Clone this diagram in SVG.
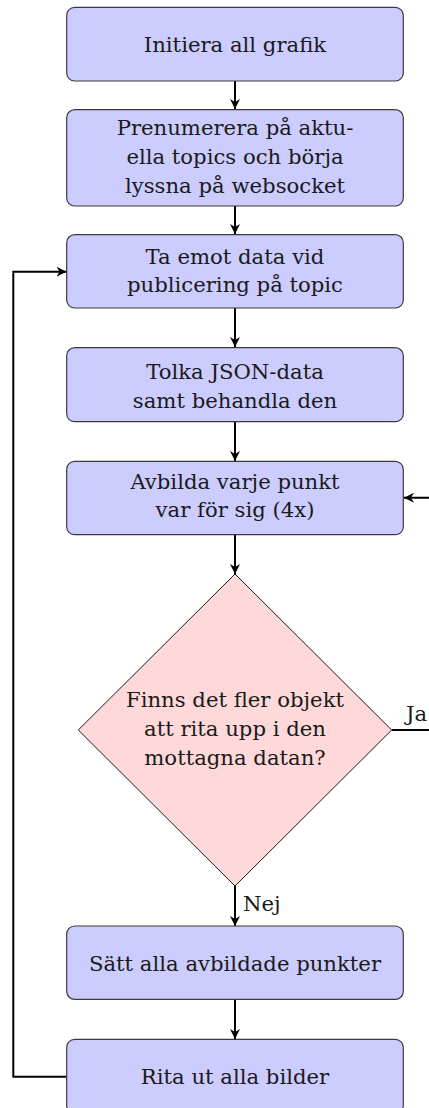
<svg xmlns="http://www.w3.org/2000/svg" width="429" height="1108" viewBox="0 0 429 1108">
  <defs>
    <style>
      .box { fill: #ccccff; stroke: #3a3a3a; stroke-width: 1.2; }
      .dec { fill: #ffd9d9; stroke: #1a1a1a; stroke-width: 1; }
      text { font-family: 'DejaVu Serif', serif; font-size: 21.2px; fill: #1a1a1a; }
      .lbl { text-anchor: middle; }
      .edge { fill: none; stroke: #000; stroke-width: 2; }
    </style>
    <marker id="arrow" viewBox="0 0 10 10" refX="10" refY="5" markerWidth="5" markerHeight="5" orient="auto" markerUnits="strokeWidth">
      <path d="M0,0 L10,5 L0,10 L3,5 Z" fill="#000"/>
    </marker>
  </defs>

  <!-- connectors -->
  <g id="edges">
    <line class="edge" x1="235" y1="81" x2="235" y2="109" marker-end="url(#arrow)"/>
    <line class="edge" x1="235" y1="206" x2="235" y2="234" marker-end="url(#arrow)"/>
    <line class="edge" x1="235" y1="308" x2="235" y2="347" marker-end="url(#arrow)"/>
    <line class="edge" x1="235" y1="422" x2="235" y2="461" marker-end="url(#arrow)"/>
    <line class="edge" x1="235" y1="535" x2="235" y2="574" marker-end="url(#arrow)"/>
    <line class="edge" x1="235" y1="886" x2="235" y2="926" marker-end="url(#arrow)"/>
    <line class="edge" x1="235" y1="999" x2="235" y2="1039" marker-end="url(#arrow)"/>
    <!-- yes branch: back to the per-point step -->
    <path class="edge" d="M391.7,730 H440 V497.7 H404" marker-end="url(#arrow)"/>
    <!-- main loop: back to receiving data -->
    <path class="edge" d="M67,1076.7 H13.3 V271.7 H66.5" marker-end="url(#arrow)"/>
    <text x="406" y="721">Ja</text>
    <text x="243" y="911">Nej</text>
  </g>

  <g id="init">
    <rect class="box" x="66.7" y="7.3" width="336.6" height="73.7" rx="8"/>
    <text class="lbl" x="235" y="52">Initiera all grafik</text>
  </g>

  <g id="subscribe">
    <rect class="box" x="66.7" y="109.7" width="336.6" height="96.3" rx="8"/>
    <text class="lbl" x="235" y="135">Prenumerera på aktu-</text>
    <text class="lbl" x="235" y="164">ella topics och börja</text>
    <text class="lbl" x="235" y="193">lyssna på websocket</text>
  </g>

  <g id="receive">
    <rect class="box" x="66.7" y="234.7" width="336.6" height="73.3" rx="8"/>
    <text class="lbl" x="235" y="263.5">Ta emot data vid</text>
    <text class="lbl" x="235" y="292">publicering på topic</text>
  </g>

  <g id="parse">
    <rect class="box" x="66.7" y="347.7" width="336.6" height="74" rx="8"/>
    <text class="lbl" x="235" y="378.5">Tolka JSON-data</text>
    <text class="lbl" x="235" y="407.5">samt behandla den</text>
  </g>

  <g id="map">
    <rect class="box" x="66.7" y="461.3" width="336.6" height="73.4" rx="8"/>
    <text class="lbl" x="235" y="488.5">Avbilda varje punkt</text>
    <text class="lbl" x="235" y="517">var för sig (4x)</text>
  </g>

  <g id="decision">
    <polygon class="dec" points="235,574 391.7,730 235,886 78.3,730"/>
    <text class="lbl" x="235" y="707">Finns det fler objekt</text>
    <text class="lbl" x="235" y="736">att rita upp i den</text>
    <text class="lbl" x="235" y="764.5">mottagna datan?</text>
  </g>

  <g id="set">
    <rect class="box" x="66.7" y="926" width="336.6" height="73.3" rx="8"/>
    <text class="lbl" x="235" y="970.5">Sätt alla avbildade punkter</text>
  </g>

  <g id="draw">
    <rect class="box" x="66.7" y="1039.3" width="336.6" height="74" rx="8"/>
    <text class="lbl" x="235" y="1084">Rita ut alla bilder</text>
  </g>
</svg>
